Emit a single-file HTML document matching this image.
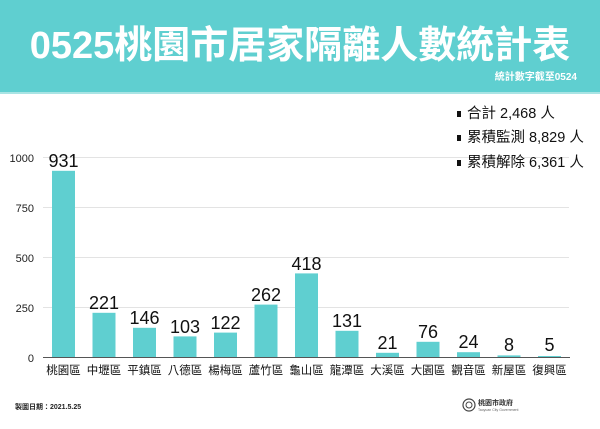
<!DOCTYPE html>
<html><head><meta charset="utf-8"><style>
body{margin:0;width:600px;height:424px;overflow:hidden;background:#fff;font-family:"Liberation Sans","Noto Sans CJK TC",sans-serif}
</style></head><body>
<svg width="600" height="424" xmlns="http://www.w3.org/2000/svg" font-family="Liberation Sans, Noto Sans CJK TC, sans-serif">
<rect x="0" y="0" width="600" height="92" fill="#5fcfd0"/>
<rect x="0" y="92" width="600" height="2" fill="#a9e4e4"/>
<text x="300" y="58" text-anchor="middle" font-size="38" font-weight="bold" fill="#fff">0525桃園市居家隔離人數統計表</text>
<text x="577" y="80" text-anchor="end" font-size="10" font-weight="bold" fill="#fff">統計數字截至0524</text>
<g stroke="#e3e3e3" stroke-width="1">
<line x1="43" x2="569" y1="157.5" y2="157.5"/><line x1="43" x2="569" y1="207.5" y2="207.5"/>
<line x1="43" x2="569" y1="257.5" y2="257.5"/><line x1="43" x2="569" y1="307.5" y2="307.5"/>
</g>
<g font-size="11" fill="#222" text-anchor="end">
<text x="34" y="162">1000</text><text x="34" y="212">750</text><text x="34" y="262">500</text><text x="34" y="312">250</text><text x="34" y="362">0</text>
</g>
<g fill="#5fcfd0">
<rect x="52" y="170.8" width="23" height="186.2"/>
<rect x="92.5" y="312.8" width="23" height="44.2"/>
<rect x="133" y="327.8" width="23" height="29.2"/>
<rect x="173.5" y="336.4" width="23" height="20.6"/>
<rect x="214" y="332.6" width="23" height="24.4"/>
<rect x="254.5" y="304.6" width="23" height="52.4"/>
<rect x="295" y="273.4" width="23" height="83.6"/>
<rect x="335.5" y="330.8" width="23" height="26.2"/>
<rect x="376" y="352.8" width="23" height="4.2"/>
<rect x="416.5" y="341.8" width="23" height="15.2"/>
<rect x="457" y="352.2" width="23" height="4.8"/>
<rect x="497.5" y="355.4" width="23" height="1.6"/>
<rect x="538" y="356" width="23" height="1"/>
</g>
<line x1="43" x2="570" y1="357.5" y2="357.5" stroke="#555" stroke-width="1"/>
<g font-size="18" fill="#111" text-anchor="middle">
<text x="63.5" y="167">931</text><text x="104" y="309">221</text><text x="144.5" y="324">146</text>
<text x="185" y="333">103</text><text x="225.5" y="329">122</text><text x="266" y="301">262</text>
<text x="306.5" y="270">418</text><text x="347" y="327">131</text><text x="387.5" y="349">21</text>
<text x="428" y="338">76</text><text x="468.5" y="348">24</text><text x="509" y="351">8</text><text x="549.5" y="351">5</text>
</g>
<g font-size="11.5" fill="#111" text-anchor="middle">
<text x="63.5" y="374">桃園區</text><text x="104" y="374">中壢區</text><text x="144.5" y="374">平鎮區</text>
<text x="185" y="374">八德區</text><text x="225.5" y="374">楊梅區</text><text x="266" y="374">蘆竹區</text>
<text x="306.5" y="374">龜山區</text><text x="347" y="374">龍潭區</text><text x="387.5" y="374">大溪區</text>
<text x="428" y="374">大園區</text><text x="468.5" y="374">觀音區</text><text x="509" y="374">新屋區</text><text x="549.5" y="374">復興區</text>
</g>
<g font-size="14.5" fill="#111">
<rect x="457" y="111" width="4" height="6"/><text x="467" y="118">合計 2,468 人</text>
<rect x="457" y="135" width="4" height="6"/><text x="467" y="142">累積監測 8,829 人</text>
<rect x="457" y="160" width="4" height="6"/><text x="467" y="167">累積解除 6,361 人</text>
</g>
<text x="15" y="409" font-size="7" font-weight="bold" fill="#222">製圖日期：2021.5.25</text>
<circle cx="469" cy="405" r="6" fill="none" stroke="#444" stroke-width="1.2"/>
<circle cx="469" cy="405" r="3" fill="none" stroke="#444" stroke-width="1"/>
<text x="478" y="405" font-size="7" font-weight="bold" fill="#333">桃園市政府</text>
<text x="478" y="411" font-size="3.5" fill="#666">Taoyuan City Government</text>
</svg>
</body></html>
